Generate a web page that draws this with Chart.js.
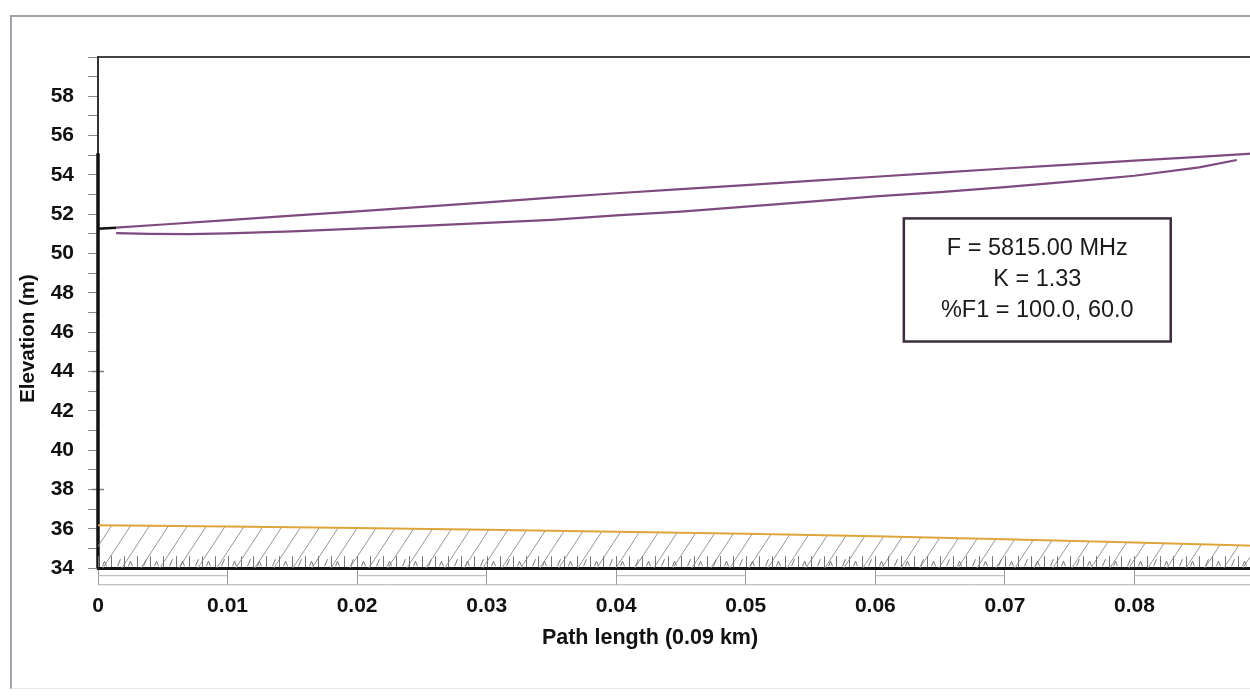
<!DOCTYPE html>
<html>
<head>
<meta charset="utf-8">
<script src="https://cdn.jsdelivr.net/npm/chart.js@4.4.0/dist/chart.umd.min.js"></script>
<style>
  html, body { margin: 0; padding: 0; background: #fff; overflow: hidden; width: 1250px; height: 697px; }
  #frame { position: absolute; left: 10px; top: 15px; width: 1300px; height: 671px;
           border-left: 2px solid #a2a2ab; border-top: 2px solid #a2a2ab; border-bottom: 1px solid #e6e6e6; }
  #c { position: absolute; left: 0; top: 0; }
</style>
</head>
<body>
<div id="frame"></div>
<canvas id="c" width="1300" height="677"></canvas>
<script>
// path profile, distances in km, elevations in m
const losX = [0.0014, 0.005, 0.01, 0.015, 0.02, 0.025, 0.03, 0.035, 0.04, 0.045,
              0.05, 0.055, 0.06, 0.065, 0.07, 0.075, 0.08, 0.085, 0.09];
const losY = [51.32, 51.48, 51.70, 51.93, 52.15, 52.38, 52.61, 52.85, 53.07, 53.28,
              53.48, 53.70, 53.91, 54.12, 54.33, 54.53, 54.73, 54.92, 55.12];

const fresnelX = [0.0014, 0.004, 0.007, 0.01, 0.015, 0.02, 0.025, 0.03, 0.035, 0.04,
                  0.045, 0.05, 0.055, 0.06, 0.065, 0.07, 0.075, 0.08, 0.085, 0.0879];
const fresnelY = [51.04, 51.00, 50.99, 51.03, 51.13, 51.27, 51.41, 51.56, 51.72, 51.94,
                  52.14, 52.39, 52.64, 52.91, 53.13, 53.38, 53.66, 53.96, 54.39, 54.76];

const groundX = [0, 0.01, 0.02, 0.03, 0.04, 0.05, 0.06, 0.07, 0.08, 0.09];
const groundY = [36.18, 36.12, 36.05, 35.96, 35.86, 35.75, 35.62, 35.47, 35.31, 35.13];

const mastX = [0, 0];
const mastY = [34, 55.1];
const feedX = [0, 0.0014];
const feedY = [51.27, 51.32];
const markX = [0, 0];
const markY = [44, 38];

const infoLines = ['F = 5815.00 MHz', 'K = 1.33', '%F1 = 100.0, 60.0'];

const FONT = "'Liberation Sans', Arial, sans-serif";
const zip = (xs, ys) => xs.map((x, i) => ({ x, y: ys[i] }));

function hatchPattern() {
  const c = document.createElement('canvas');
  c.width = 19; c.height = 29;
  const g = c.getContext('2d');
  g.strokeStyle = '#969696';
  g.lineWidth = 1;
  g.beginPath();
  g.moveTo(0, 29); g.lineTo(19, 0);
  g.moveTo(-19, 29); g.lineTo(0, 0);
  g.moveTo(19, 29); g.lineTo(38, 0);
  g.stroke();
  return g.createPattern(c, 'repeat');
}

// ground marks, scale bar under the x axis and the info box
const decor = {
  id: 'decor',
  afterDatasetsDraw(chart) {
    const { ctx, chartArea: a, scales: { x } } = chart;
    ctx.save();
    ctx.strokeStyle = '#777';
    ctx.lineWidth = 1;
    ctx.beginPath();
    for (let k = 0; k <= 90; k++) {
      const px = Math.round(x.getPixelForValue(k / 1000)) + 0.5;
      ctx.moveTo(px, a.bottom - 1);
      ctx.lineTo(px, a.bottom - 12);
      const mx = px + 6;
      if (k % 2 === 0) {
        ctx.moveTo(mx - 2, a.bottom - 2);
        ctx.lineTo(mx, a.bottom - 7);
        ctx.lineTo(mx + 2, a.bottom - 2);
      } else {
        ctx.moveTo(mx + 3, a.bottom - 9);
        ctx.lineTo(mx, a.bottom - 2);
      }
    }
    ctx.stroke();

    ctx.strokeStyle = '#b0b0b0';
    ctx.beginPath();
    ctx.moveTo(x.getPixelForValue(0), a.bottom + 16.5);
    ctx.lineTo(x.getPixelForValue(0.09), a.bottom + 16.5);
    for (let k = 0; k < 9; k += 2) {
      ctx.moveTo(x.getPixelForValue(k / 100), a.bottom + 7.5);
      ctx.lineTo(x.getPixelForValue((k + 1) / 100), a.bottom + 7.5);
    }
    ctx.stroke();
    ctx.restore();
  },
  afterDraw(chart) {
    const { ctx, scales: { x, y } } = chart;
    const l = x.getPixelForValue(0.0622), r = x.getPixelForValue(0.0828);
    const t = y.getPixelForValue(51.79), b = y.getPixelForValue(45.53);
    ctx.save();
    ctx.fillStyle = '#fff';
    ctx.fillRect(l, t, r - l, b - t);
    ctx.strokeStyle = '#3d2c3d';
    ctx.lineWidth = 2.5;
    ctx.strokeRect(l, t, r - l, b - t);
    ctx.fillStyle = '#1a1a1a';
    ctx.font = '23.5px ' + FONT;
    ctx.textAlign = 'center';
    ctx.textBaseline = 'middle';
    infoLines.forEach((s, i) => ctx.fillText(s, (l + r) / 2, t + 30 + i * 31));
    ctx.restore();
  }
};

const purple = '#7e4a7f';

new Chart(document.getElementById('c'), {
  type: 'line',
  data: {
    datasets: [
      { data: zip(losX, losY), borderColor: purple, borderWidth: 2.2, pointRadius: 0 },
      { data: zip(fresnelX, fresnelY), borderColor: purple, borderWidth: 2.2, pointRadius: 0 },
      { data: zip(groundX, groundY), borderColor: '#e0a53a', borderWidth: 2, pointRadius: 0,
        fill: 'start', backgroundColor: hatchPattern() },
      { data: zip(mastX, mastY), borderColor: '#111', borderWidth: 3.5, pointRadius: 0, clip: false },
      { data: zip(feedX, feedY), borderColor: '#111', borderWidth: 2.5, pointRadius: 0, clip: false },
      { data: zip(markX, markY), showLine: false, pointStyle: 'cross', pointRadius: 6,
        borderColor: '#8a7a8a', borderWidth: 1.5, clip: false }
    ]
  },
  options: {
    responsive: false,
    animation: false,
    devicePixelRatio: 1,
    layout: { padding: 0 },
    plugins: {
      legend: { display: false },
      tooltip: { enabled: false },
      title: {
        display: true, text: 'Elevation (m)', position: 'left', color: '#111',
        font: { family: FONT, size: 20.5, weight: 'bold' },
        padding: { top: 16, bottom: 3 }
      },
      subtitle: {
        display: true, text: 'Path length (0.09 km)', position: 'bottom', color: '#111',
        font: { family: FONT, size: 21.5, weight: 'bold' },
        padding: { top: 5, bottom: 26 }
      }
    },
    scales: {
      x: {
        type: 'linear', min: 0, max: 0.09,
        afterFit: s => { s.height = 52; },
        border: { color: '#111', width: 3 },
        grid: { drawOnChartArea: false, tickLength: 17, color: '#999' },
        ticks: {
          stepSize: 0.01, autoSkip: false, maxRotation: 0, padding: 8, color: '#111',
          font: { family: FONT, size: 21, weight: 'bold' },
          callback: v => (Math.abs(v) < 1e-9 ? '0' : v > 0.085 ? '' : v.toFixed(2))
        }
      },
      x2: {
        type: 'linear', position: 'top',
        afterFit: s => { s.height = 57; },
        border: { color: '#444', width: 2 },
        grid: { display: false, drawTicks: false },
        ticks: { display: false }
      },
      y: {
        min: 34, max: 60,
        afterFit: s => { s.width = 54.4; },
        border: { color: '#333', width: 2 },
        grid: { drawOnChartArea: false, tickLength: 10, color: '#8a8a8a' },
        ticks: {
          stepSize: 1, autoSkip: false, padding: 14, color: '#111',
          font: { family: FONT, size: 21, weight: 'bold' },
          callback: v => (v % 2 === 0 && v !== 60 ? String(v) : '')
        }
      },
      y2: {
        position: 'right',
        afterFit: s => { s.width = 36; },
        border: { display: false },
        grid: { display: false, drawTicks: false },
        ticks: { display: false }
      }
    }
  },
  plugins: [decor]
});
</script>
</body>
</html>
